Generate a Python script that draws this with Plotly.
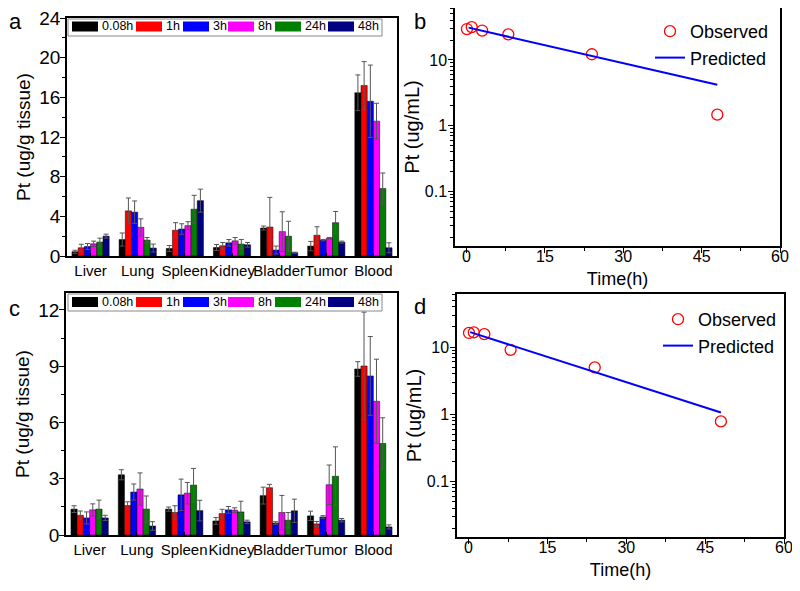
import plotly.graph_objects as go

# ---------------- data ----------------
organs = ["Liver", "Lung", "Spleen", "Kidney", "Bladder", "Tumor", "Blood"]
time_labels = ["0.08h", "1h", "3h", "8h", "24h", "48h"]
bar_colors = ["#000000", "#FF0000", "#0000FF", "#FF00FF", "#008000", "#000080"]

# panel a (means, SD) per time point across organs
a_008h = [0.43, 1.66, 0.76, 0.86, 2.82, 1.00, 16.46]
a_1h = [0.83, 4.55, 2.60, 1.03, 2.92, 2.09, 17.20]
a_3h = [0.96, 4.42, 2.72, 1.33, 0.60, 1.60, 15.60]
a_8h = [1.23, 2.89, 3.06, 1.53, 2.46, 1.80, 13.60]
a_24h = [1.40, 1.60, 4.72, 1.20, 2.00, 3.36, 6.80]
a_48h = [2.00, 0.80, 5.58, 1.13, 0.33, 1.40, 0.83]
a_008h_sd = [0.15, 0.66, 0.30, 0.30, 0.20, 0.47, 1.80]
a_1h_sd = [0.35, 1.30, 0.76, 0.33, 2.99, 0.86, 2.40]
a_3h_sd = [0.30, 1.13, 0.53, 0.33, 0.40, 0.07, 3.65]
a_8h_sd = [0.27, 0.86, 0.40, 0.33, 2.00, 0.07, 1.80]
a_24h_sd = [0.40, 0.27, 1.40, 0.47, 1.50, 1.13, 1.57]
a_48h_sd = [0.20, 0.40, 1.16, 0.23, 0.05, 0.10, 0.50]

# panel c
c_008h = [1.38, 3.21, 1.38, 0.75, 2.10, 1.02, 8.85]
c_1h = [1.05, 1.57, 1.20, 1.14, 2.52, 0.59, 9.01]
c_3h = [0.91, 2.29, 2.14, 1.34, 0.64, 0.96, 8.48]
c_8h = [1.34, 2.45, 2.23, 1.32, 1.20, 2.68, 7.13]
c_24h = [1.38, 1.38, 2.66, 1.23, 0.79, 3.13, 4.88]
c_48h = [0.91, 0.48, 1.30, 0.70, 1.29, 0.79, 0.43]
c_008h_sd = [0.18, 0.27, 0.11, 0.18, 0.45, 0.25, 0.39]
c_1h_sd = [0.23, 0.20, 0.36, 0.23, 0.18, 0.13, 2.87]
c_3h_sd = [0.32, 0.43, 0.84, 0.18, 0.07, 0.07, 2.10]
c_8h_sd = [0.32, 0.86, 0.57, 0.13, 0.91, 1.05, 2.24]
c_24h_sd = [0.48, 0.70, 0.89, 0.57, 0.41, 1.57, 1.37]
c_48h_sd = [0.14, 0.23, 0.55, 0.09, 0.62, 0.09, 0.11]

# panel b / d pharmacokinetics
pk_time = [0.083, 1, 3, 8, 24, 48]
b_observed = [29.5, 31.6, 28.0, 24.5, 12.2, 1.47]
b_pred_time = [0.4, 48]
b_predicted = [31.0, 4.2]
d_observed = [16.2, 16.5, 15.6, 9.1, 4.96, 0.78]
d_pred_time = [0.3, 48]
d_predicted = [16.7, 1.06]

a_ticks = [0, 4, 8, 12, 16, 20, 24]
c_ticks = [0, 3, 6, 9, 12]
time_ticks = [0, 15, 30, 45, 60]
log_ticks = [0.1, 1, 10]

# ---------------- figure ----------------
# the page body has an 8px margin, so the figure is drawn 8px in from the
# window corner; size it to fill the rest of the 800x591 window
OFF = 8
W, H = 800 - OFF, 591 - OFF
FONT = "Liberation Sans, Arial, sans-serif"

def px(x):
    return (x - OFF) / W

def py(y):
    return 1 - (y - OFF) / H

fig = go.Figure()

a_means = [a_008h, a_1h, a_3h, a_8h, a_24h, a_48h]
a_sds = [a_008h_sd, a_1h_sd, a_3h_sd, a_8h_sd, a_24h_sd, a_48h_sd]
c_means = [c_008h, c_1h, c_3h, c_8h, c_24h, c_48h]
c_sds = [c_008h_sd, c_1h_sd, c_3h_sd, c_8h_sd, c_24h_sd, c_48h_sd]

for means, sds, xa, ya in [(a_means, a_sds, "x", "y"), (c_means, c_sds, "x3", "y3")]:
    for name, col, m, s in zip(time_labels, bar_colors, means, sds):
        fig.add_trace(go.Bar(
            x=organs, y=m, name=name, xaxis=xa, yaxis=ya,
            marker=dict(color=col, line=dict(color="#000000", width=0.5)),
            error_y=dict(type="data", array=s, visible=True, color="#555555",
                         thickness=1, width=2.5),
            showlegend=False,
        ))

# b
fig.add_trace(go.Scatter(x=pk_time, y=b_observed, mode="markers", name="Observed",
                         xaxis="x2", yaxis="y2", legend="legend",
                         marker=dict(symbol="circle-open", size=11, color="#FF0000",
                                     line=dict(width=1.3, color="#FF0000"))))
fig.add_trace(go.Scatter(x=b_pred_time, y=b_predicted, mode="lines", name="Predicted",
                         xaxis="x2", yaxis="y2", legend="legend",
                         line=dict(color="#0000FF", width=2)))
# d
fig.add_trace(go.Scatter(x=pk_time, y=d_observed, mode="markers", name="Observed",
                         xaxis="x4", yaxis="y4", legend="legend2",
                         marker=dict(symbol="circle-open", size=11, color="#FF0000",
                                     line=dict(width=1.3, color="#FF0000"))))
fig.add_trace(go.Scatter(x=d_pred_time, y=d_predicted, mode="lines", name="Predicted",
                         xaxis="x4", yaxis="y4", legend="legend2",
                         line=dict(color="#0000FF", width=2)))

axis_common = dict(showline=True, linecolor="#000000", linewidth=1.5, mirror=True,
                   showgrid=False, zeroline=False, ticks="outside", ticklen=5,
                   tickwidth=1, tickcolor="#000000", automargin=False,
                   ticklabeloverflow="allow")

bar_x = dict(axis_common, ticks="inside", ticklen=3, tickfont=dict(size=15),
             tickangle=0, range=[-0.5, 6.5])
bar_title = dict(text="Pt (ug/g tissue)", font=dict(size=19), standoff=4)

minor_log = [m * 10.0 ** e for e in (-2, -1, 0, 1) for m in range(2, 10)]

pk_x = dict(axis_common, range=[-2.2, 60], tickvals=time_ticks, tickfont=dict(size=16),
            ticklabelstandoff=-10,
            minor=dict(ticks="outside", ticklen=3, dtick=7.5, tickcolor="#000000"),
            title=dict(text="Time(h)", font=dict(size=18), standoff=8))
pk_y = dict(axis_common, type="log", range=[-1.83, 1.79], tickvals=log_ticks,
            ticktext=["0.1", "1", "10"], tickfont=dict(size=16), ticklabelstandoff=-2,
            minor=dict(ticks="outside", ticklen=3, tickvals=minor_log, tickcolor="#000000"),
            title=dict(text="Pt (ug/mL)", font=dict(size=20), standoff=0))

fig.update_layout(
    width=W, height=H, autosize=False,
    margin=dict(l=0, r=0, t=0, b=0, pad=0, autoexpand=False),
    paper_bgcolor="white", plot_bgcolor="white",
    font=dict(family=FONT, color="#000000"),
    barmode="group", bargap=0.21, bargroupgap=0,
    xaxis=dict(bar_x, domain=[px(67), px(397)], anchor="y"),
    yaxis=dict(axis_common, domain=[py(256), py(18)], anchor="x", range=[0, 24],
               tickvals=a_ticks, tickfont=dict(size=19), ticklabelstandoff=-4,
               minor=dict(ticks="outside", ticklen=3, dtick=2, tickcolor="#000000"),
               title=bar_title),
    xaxis3=dict(bar_x, domain=[px(66), px(397)], anchor="y3"),
    yaxis3=dict(axis_common, domain=[py(535), py(293)], anchor="x3", range=[0, 12.9],
                tickvals=c_ticks, tickfont=dict(size=19), ticklabelstandoff=-4,
                minor=dict(ticks="outside", ticklen=3, dtick=1.5, tickcolor="#000000"),
                title=bar_title),
    xaxis2=dict(pk_x, domain=[px(455), px(780)], anchor="y2"),
    yaxis2=dict(pk_y, domain=[py(246), py(8)], anchor="x2"),
    xaxis4=dict(pk_x, domain=[px(457), px(784)], anchor="y4"),
    yaxis4=dict(pk_y, domain=[py(537), py(294)], anchor="x4"),
    legend=dict(x=px(650), y=py(13), xanchor="left", yanchor="top",
                bgcolor="rgba(0,0,0,0)", font=dict(size=18), tracegroupgap=0),
    legend2=dict(x=px(658), y=py(301), xanchor="left", yanchor="top",
                 bgcolor="rgba(0,0,0,0)", font=dict(size=18), tracegroupgap=0),
)

# custom bar-chart legends (wide swatches as in the original)
legend_swatch_x = [72, 136, 183, 228, 275, 328]
shapes = []
annotations = []
for yc, box_top in [(26.5, 19), (302, 294)]:
    shapes.append(dict(type="rect", xref="paper", yref="paper",
                       x0=px(68), x1=px(382), y0=py(box_top), y1=py(box_top + 17),
                       line=dict(color="#888888", width=1), fillcolor="white", layer="above"))
    for sx, name, col in zip(legend_swatch_x, time_labels, bar_colors):
        shapes.append(dict(type="rect", xref="paper", yref="paper",
                           x0=px(sx), x1=px(sx + 26), y0=py(yc + 5), y1=py(yc - 5),
                           line=dict(width=0), fillcolor=col, layer="above"))
        annotations.append(dict(xref="paper", yref="paper", x=px(sx + 28), y=py(yc),
                                text=name, showarrow=False, xanchor="left", yanchor="middle",
                                font=dict(size=12.5)))

for lab, x, y in [("a", 15, 22), ("b", 420, 22), ("c", 14, 308), ("d", 420, 306)]:
    annotations.append(dict(xref="paper", yref="paper", x=px(x), y=py(y), text=lab,
                            showarrow=False, xanchor="center", yanchor="middle",
                            font=dict(size=22)))

fig.update_layout(shapes=shapes, annotations=annotations)

fig.write_html("out.html")
